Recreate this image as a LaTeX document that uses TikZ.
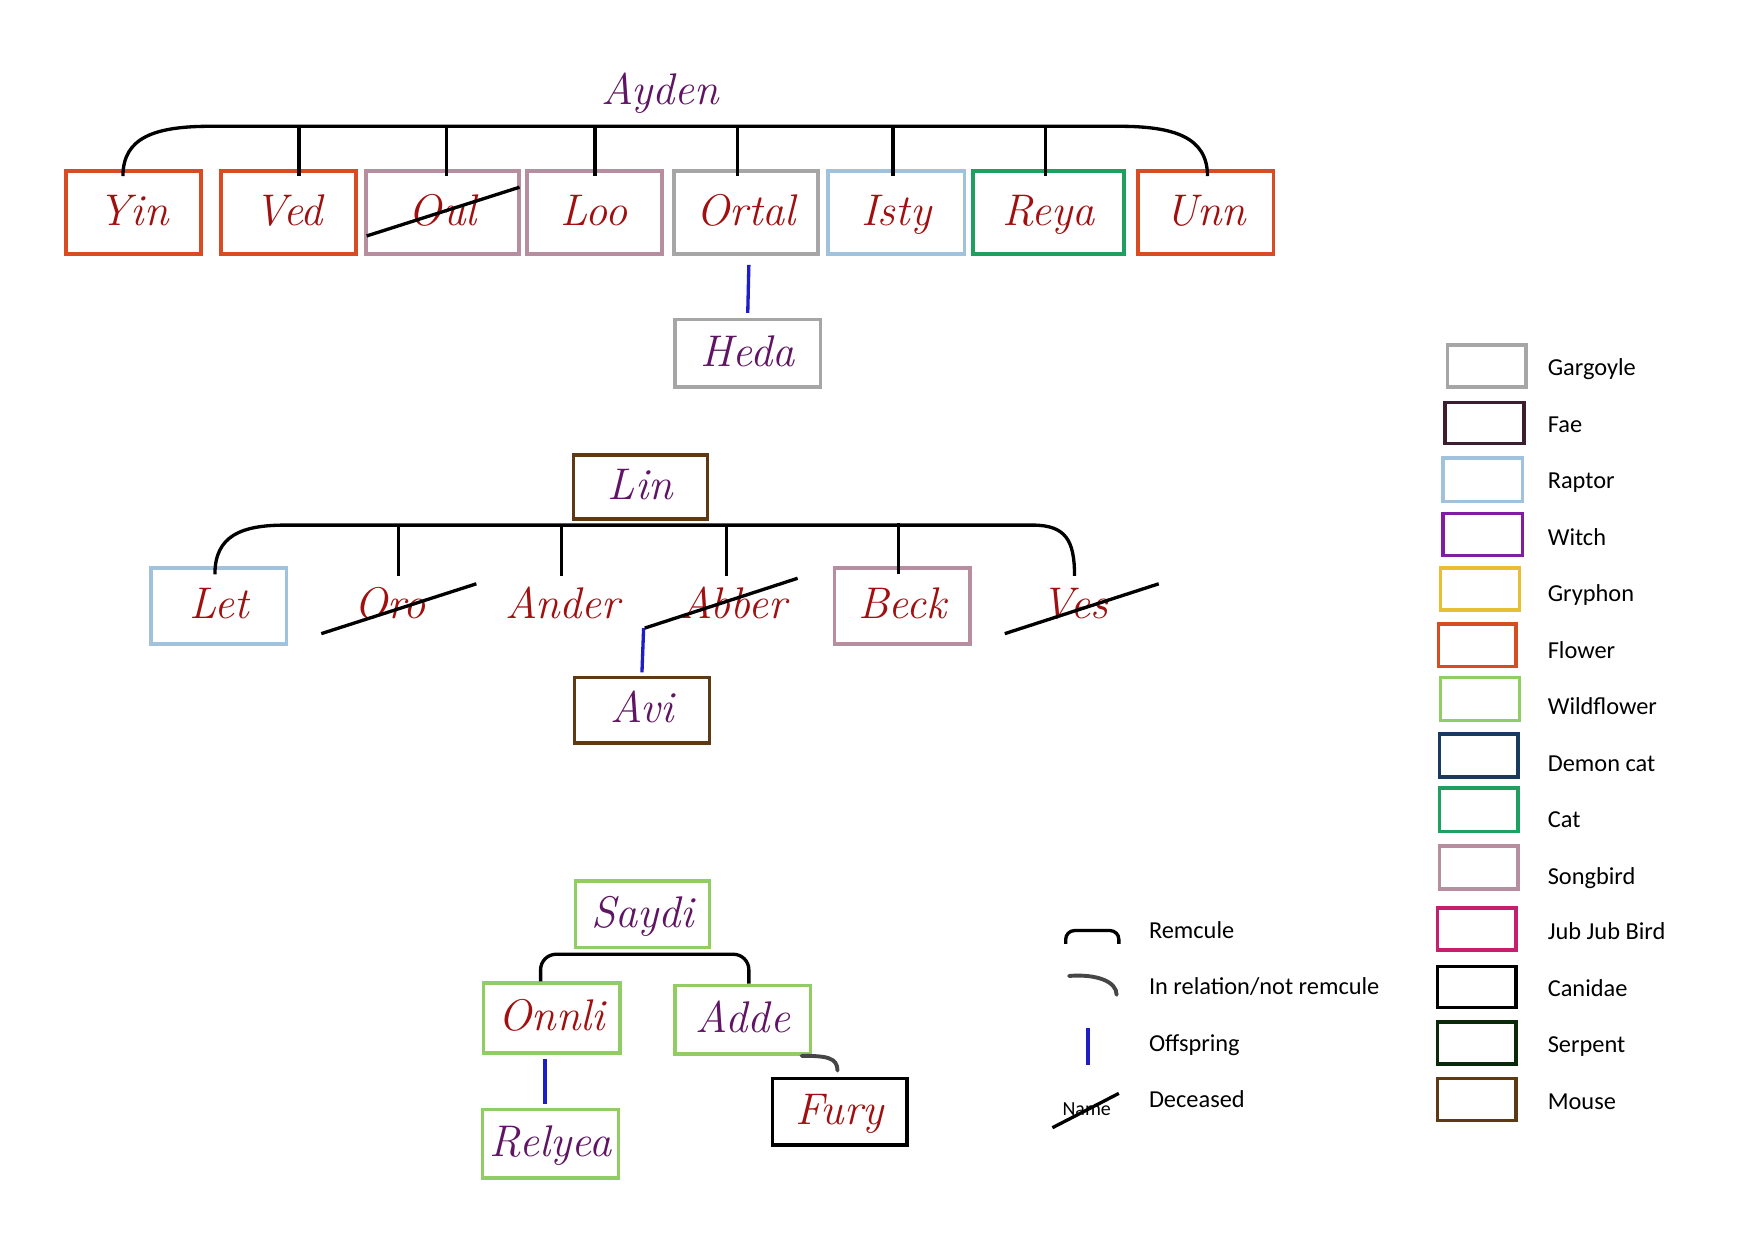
\documentclass[tikz,border=0pt]{standalone}
\usepackage{fontspec}
\newfontfamily\legfont{Carlito}
\definecolor{flower}{RGB}{216,76,36}
\definecolor{songbird}{RGB}{182,142,160}
\definecolor{gargoyle}{RGB}{166,166,166}
\definecolor{raptor}{RGB}{160,194,220}
\definecolor{catc}{RGB}{32,160,96}
\definecolor{mouse}{RGB}{94,58,20}
\definecolor{wildflower}{RGB}{146,204,100}
\definecolor{fae}{RGB}{60,30,48}
\definecolor{witch}{RGB}{128,30,160}
\definecolor{gryphon}{RGB}{232,190,50}
\definecolor{demoncat}{RGB}{24,58,94}
\definecolor{jubjub}{RGB}{200,30,110}
\definecolor{serpent}{RGB}{10,40,10}
\definecolor{namered}{RGB}{160,16,16}
\definecolor{namepurple}{RGB}{96,20,100}
\definecolor{offblue}{RGB}{30,30,200}
\definecolor{relgray}{RGB}{70,70,70}
\begin{document}
\begin{tikzpicture}[x=1pt,y=-1pt,
  nm/.style={inner sep=0pt, font=\fontsize{40}{48}\selectfont\itshape, text height=27pt, text depth=4pt},
  bx/.style={nm, draw, line width=3.2pt},
  nred/.style={text=namered},
  npur/.style={text=namepurple},
  remc/.style={line width=3pt, black},
  offs/.style={line width=3pt, offblue},
  relc/.style={line width=3.5pt, relgray, line cap=round},
  strike/.style={line width=3pt, black},
  leg/.style={anchor=mid west, inner sep=0pt, font=\legfont\fontsize{22}{26}\selectfont, yshift=-3pt},
  lbox/.style={draw, line width=3.2pt, inner sep=0pt}
]
\useasboundingbox (0,0) rectangle (1568,1124);
\fill[white] (0,0) rectangle (1568,1124);

% ---------- Ayden family ----------
\node[nm, npur] (ayden) at (596,83) {Ayden};
\node[bx, nred, draw=flower, minimum width=122, minimum height=75] (yin) at (120.5,192) {Yin};
\node[bx, nred, draw=flower, minimum width=122, minimum height=75] (ved) at (260.5,192) {Ved};
\node[bx, nred, draw=songbird, minimum width=138, minimum height=75] (oul) at (399.5,192) {Oul};
\node[bx, nred, draw=songbird, minimum width=122, minimum height=75] (loo) at (536.5,192) {Loo};
\node[bx, nred, draw=gargoyle, minimum width=130, minimum height=75] (ortal) at (673.5,192) {Ortal};
\node[bx, nred, draw=raptor, minimum width=123, minimum height=75] (isty) at (809,192) {Isty};
\node[bx, nred, draw=catc, minimum width=136, minimum height=75] (reya) at (946.5,192) {Reya};
\node[bx, nred, draw=flower, minimum width=122, minimum height=75] (unn) at (1088.5,192) {Unn};
\node[bx, npur, draw=gargoyle, minimum width=131, minimum height=61] (heda) at (675,319) {Heda};

\coordinate (aL) at (190,114);
\coordinate (aR) at (1010,114);
\draw[remc] ([xshift=-9.5pt,yshift=-6pt]yin.north) .. controls +(0,-35) and +(-50,0) .. (aL)
  -- (aR) .. controls +(50,0) and +(0,-35) .. ([xshift=1.5pt,yshift=-6pt]unn.north);
\draw[remc] ([xshift=9.5pt,yshift=-6pt]ved.north) -- ++(0,-46);
\draw[remc] ([xshift=3.5pt,yshift=-6pt]oul.north) -- ++(0,-46);
\draw[remc] ([xshift=0.5pt,yshift=-6pt]loo.north) -- ++(0,-46);
\draw[remc] ([xshift=-7.5pt,yshift=-6pt]ortal.north) -- ++(0,-46);
\draw[remc] ([xshift=-3pt,yshift=-6pt]isty.north) -- ++(0,-46);
\draw[remc] ([xshift=-2.5pt,yshift=-6pt]reya.north) -- ++(0,-46);
\draw[strike] ([shift={(-68.5,21)}]oul.center) -- ([shift={(69.5,-23)}]oul.center);
\draw[offs] ([xshift=2.5pt,yshift=-8pt]ortal.south) -- ([yshift=4.5pt]heda.north);

% ---------- Lin family ----------
\node[bx, npur, draw=mouse, minimum width=121, minimum height=58] (lin) at (578,439.5) {Lin};
\node[bx, nred, draw=raptor, minimum width=122, minimum height=69] (let) at (197.5,547) {Let};
\node[nm, nred, minimum width=122, minimum height=69] (oro) at (352,547) {Oro};
\node[nm, nred, minimum width=122, minimum height=69] (ander) at (508,547) {Ander};
\node[nm, nred, minimum width=122, minimum height=69] (abber) at (662,547) {Abber};
\node[bx, nred, draw=songbird, minimum width=122, minimum height=69] (beck) at (814.5,547) {Beck};
\node[nm, nred, minimum width=122, minimum height=69] (ves) at (970,547) {Ves};
\node[bx, npur, draw=mouse, minimum width=122, minimum height=59] (avi) at (579.5,641) {Avi};

\coordinate (lL) at (258,474);
\coordinate (lR) at (932,474);
\draw[remc] ([xshift=-3.5pt,yshift=-7.5pt]let.north) .. controls +(0,-35) and +(-40,0) .. (lL)
  -- (lR) .. controls +(30,0) and +(0,-32) .. ([yshift=-7.5pt]ves.north);
\draw[remc] ([xshift=8pt,yshift=-7.5pt]oro.north) -- ++(0,-46);
\draw[remc] ([xshift=-1pt,yshift=-7.5pt]ander.north) -- ++(0,-46);
\draw[remc] ([xshift=-6pt,yshift=-7.5pt]abber.north) -- ++(0,-46);
\draw[remc] ([xshift=-3.5pt,yshift=-7.5pt]beck.north) -- ++(0,-46);
\draw[strike] ([shift={(-62,25)}]oro.center) -- ([shift={(78,-20)}]oro.center);
\coordinate (abS) at ([shift={(-80,20)}]abber.center);
\draw[strike] (abS) -- ([shift={(58,-25)}]abber.center);
\draw[strike] ([shift={(-63,25)}]ves.center) -- ([shift={(76,-20)}]ves.center);
\draw[offs] ([xshift=-1pt]abS) -- ([yshift=3pt]avi.north);

% ---------- Saydi family ----------
\node[bx, npur, draw=wildflower, minimum width=121, minimum height=60] (saydi) at (580,825.5) {Saydi};
\node[bx, nred, draw=wildflower, minimum width=123, minimum height=63] (onnli) at (498,919) {Onnli};
\node[bx, npur, draw=wildflower, minimum width=122, minimum height=62] (adde) at (670.5,920.5) {Adde};
\node[bx, npur, draw=wildflower, minimum width=123, minimum height=62] (relyea) at (497,1032.5) {Relyea};
\node[bx, nred, draw=black, minimum width=121, minimum height=60] (fury) at (758,1003.5) {Fury};

\draw[remc, rounded corners=14pt] ([xshift=-10pt]onnli.north) -- ++(0,-24.5) -| ([xshift=5.5pt]adde.north);
\draw[offs] ([xshift=-6pt,yshift=-4pt]onnli.south) -- ([xshift=-5pt,yshift=3pt]relyea.north);
\draw[relc] ([xshift=-9.5pt]adde.south east) .. controls +(22,0) and +(0,-12) .. ([xshift=-2pt,yshift=5.5pt]fury.north);

% ---------- middle legend ----------
\coordinate (r1) at (962,852);
\coordinate (r2) at (1010,852);
\draw[remc, rounded corners=8pt] (r1) -- ++(0,-12) -| (r2);
\node[leg] (lremc) at (1037,842) {Remcule};
\coordinate (q1) at (965,881);
\coordinate (q2) at (1008,898);
\draw[relc] (q1) .. controls +(25,-2) and +(0,-12) .. (q2);
\node[leg] (lrel) at (1037,893) {In relation/not remcule};
\coordinate (o1) at (982,928);
\coordinate (o2) at (982,961);
\draw[offs] (o1) -- (o2);
\node[leg] (loff) at (1037,944) {Offspring};
\node[inner sep=0pt, font=\legfont\fontsize{18}{20}\selectfont] (nmx) at (981,1001) {Name};
\draw[strike] ([shift={(-31,17)}]nmx.center) -- ([shift={(29,-14)}]nmx.center);
\node[leg] (ldec) at (1037,995) {Deceased};

% ---------- right legend ----------
\node[lbox, draw=gargoyle, minimum width=71, minimum height=38] (k1) at (1342,330.5) {};
\node[leg] at (1397,334) {Gargoyle};
\node[lbox, draw=fae, minimum width=71, minimum height=37] (k2) at (1340,382) {};
\node[leg] at (1397,385) {Fae};
\node[lbox, draw=raptor, minimum width=72, minimum height=39] (k3) at (1338.5,433) {};
\node[leg] at (1397,436) {Raptor};
\node[lbox, draw=witch, minimum width=72, minimum height=38] (k4) at (1338.5,482.5) {};
\node[leg] at (1397,487) {Witch};
\node[lbox, draw=gryphon, minimum width=71, minimum height=38] (k5) at (1336,531.5) {};
\node[leg] at (1397,538) {Gryphon};
\node[lbox, draw=flower, minimum width=70, minimum height=38] (k6) at (1333.5,582.5) {};
\node[leg] at (1397,589) {Flower};
\node[lbox, draw=wildflower, minimum width=71, minimum height=39] (k7) at (1336,631) {};
\node[leg] at (1397,640) {Wildflower};
\node[lbox, draw=demoncat, minimum width=71, minimum height=39] (k8) at (1335,682) {};
\node[leg] at (1397,691) {Demon cat};
\node[lbox, draw=catc, minimum width=71, minimum height=39] (k9) at (1335,731) {};
\node[leg] at (1397,742) {Cat};
\node[lbox, draw=songbird, minimum width=71, minimum height=39] (k10) at (1335,783) {};
\node[leg] at (1397,793) {Songbird};
\node[lbox, draw=jubjub, minimum width=71, minimum height=38] (k11) at (1333,838.5) {};
\node[leg] at (1397,843) {Jub Jub Bird};
\node[lbox, draw=black, minimum width=71, minimum height=37] (k12) at (1333,891) {};
\node[leg] at (1397,894) {Canidae};
\node[lbox, draw=serpent, minimum width=71, minimum height=38] (k13) at (1333,941.5) {};
\node[leg] at (1397,945) {Serpent};
\node[lbox, draw=mouse, minimum width=71, minimum height=38] (k14) at (1333,992.5) {};
\node[leg] at (1397,996) {Mouse};
\end{tikzpicture}
\end{document}
